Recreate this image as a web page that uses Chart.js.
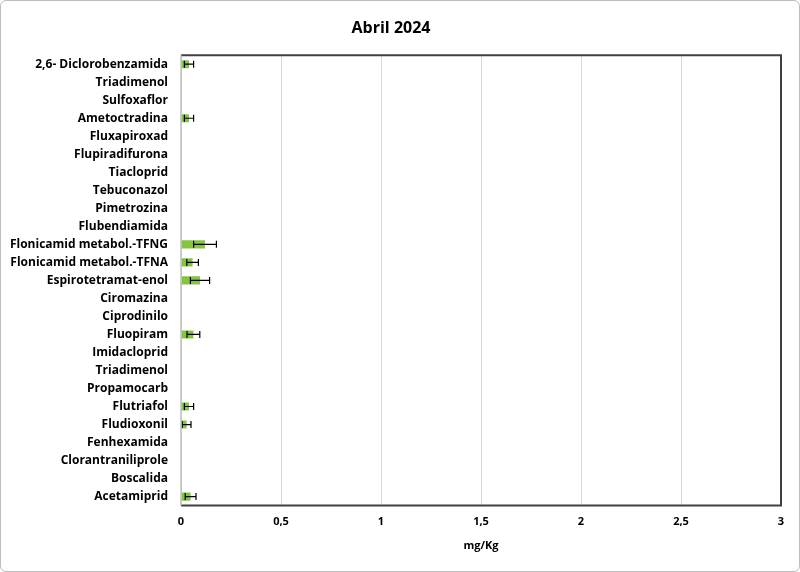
<!DOCTYPE html>
<html>
<head>
<meta charset="utf-8">
<script src="https://cdn.jsdelivr.net/npm/chart.js@4"></script>
<style>
  html, body { margin: 0; padding: 0; background: #fff; }
  #wrap { width: 798px; height: 570px; border: 1px solid #bdbdbd; border-radius: 6px; position: relative; }
  canvas { display: block; }
</style>
</head>
<body>
<div id="wrap"><canvas id="chart" width="798" height="570"></canvas></div>
<script>
const categories = [
  '2,6- Diclorobenzamida', 'Triadimenol', 'Sulfoxaflor', 'Ametoctradina', 'Fluxapiroxad',
  'Flupiradifurona', 'Tiacloprid', 'Tebuconazol', 'Pimetrozina', 'Flubendiamida',
  'Flonicamid metabol.-TFNG', 'Flonicamid metabol.-TFNA', 'Espirotetramat-enol', 'Ciromazina', 'Ciprodinilo',
  'Fluopiram', 'Imidacloprid', 'Triadimenol', 'Propamocarb', 'Flutriafol',
  'Fludioxonil', 'Fenhexamida', 'Clorantraniliprole', 'Boscalida', 'Acetamiprid'
];
const means = [
  0.04, 0, 0, 0.04, 0,
  0, 0, 0, 0, 0,
  0.12, 0.058, 0.095, 0, 0,
  0.062, 0, 0, 0, 0.04,
  0.028, 0, 0, 0, 0.048
];
const errors = [
  0.023, 0, 0, 0.023, 0,
  0, 0, 0, 0, 0,
  0.057, 0.029, 0.048, 0, 0,
  0.032, 0, 0, 0, 0.023,
  0.022, 0, 0, 0, 0.027
];
const xTicks = [0, 0.5, 1, 1.5, 2, 2.5, 3];

// draws the whiskers and the plot frame
const errorBars = {
  id: 'errorBars',
  afterDatasetsDraw(chart) {
    const { ctx, chartArea: a, scales: { x, y } } = chart;
    ctx.save();
    ctx.strokeStyle = '#000';
    ctx.lineWidth = 1.2;
    means.forEach((m, i) => {
      const e = errors[i];
      if (!e) return;
      const cy = y.getPixelForValue(i);
      const x0 = x.getPixelForValue(m - e);
      const x1 = x.getPixelForValue(m + e);
      ctx.beginPath();
      ctx.moveTo(x0, cy); ctx.lineTo(x1, cy);
      ctx.moveTo(x0, cy - 3.5); ctx.lineTo(x0, cy + 3.5);
      ctx.moveTo(x1, cy - 3.5); ctx.lineTo(x1, cy + 3.5);
      ctx.stroke();
    });
    // frame
    ctx.strokeStyle = '#404040';
    ctx.lineWidth = 2;
    ctx.beginPath();
    ctx.moveTo(a.left, a.top); ctx.lineTo(a.right, a.top);
    ctx.lineTo(a.right, a.bottom); ctx.lineTo(a.left, a.bottom);
    ctx.stroke();
    ctx.strokeStyle = '#bfbfbf';
    ctx.lineWidth = 1.5;
    ctx.beginPath();
    ctx.moveTo(a.left, a.top); ctx.lineTo(a.left, a.bottom);
    ctx.stroke();
    ctx.restore();
  }
};

new Chart(document.getElementById('chart'), {
  type: 'bar',
  data: {
    labels: categories,
    datasets: [{
      data: means,
      backgroundColor: '#84c441',
      borderWidth: 0,
      categoryPercentage: 0.9,
      barPercentage: 0.5
    }]
  },
  options: {
    indexAxis: 'y',
    responsive: false,
    animation: false,
    layout: { padding: { top: 18, right: 18, left: 0, bottom: 15 } },
    plugins: {
      legend: { display: false },
      tooltip: { enabled: false },
      title: {
        display: true,
        text: 'Abril 2024',
        color: '#000',
        font: { family: 'Open Sans', size: 16, weight: 'bold' },
        padding: { top: 0, bottom: 17 }
      }
    },
    scales: {
      x: {
        min: 0,
        max: 3,
        afterBuildTicks(scale) { scale.ticks = xTicks.map(v => ({ value: v })); },
        ticks: {
          color: '#000',
          font: { family: 'Open Sans', size: 11, weight: 'bold' },
          padding: 10,
          callback: v => String(v).replace('.', ',')
        },
        grid: { color: '#d9d9d9', drawTicks: false },
        border: { display: false },
        title: {
          display: true,
          text: 'mg/Kg',
          color: '#000',
          font: { family: 'Open Sans', size: 11, weight: 'bold' },
          padding: { top: 0 }
        }
      },
      y: {
        afterFit(scale) { scale.width = 180; },
        ticks: {
          color: '#000',
          font: { family: 'Open Sans', size: 12, weight: 'bold' },
          padding: 13,
          autoSkip: false
        },
        grid: { display: false, drawTicks: false },
        border: { display: false }
      }
    }
  },
  plugins: [errorBars]
});
</script>
</body>
</html>
